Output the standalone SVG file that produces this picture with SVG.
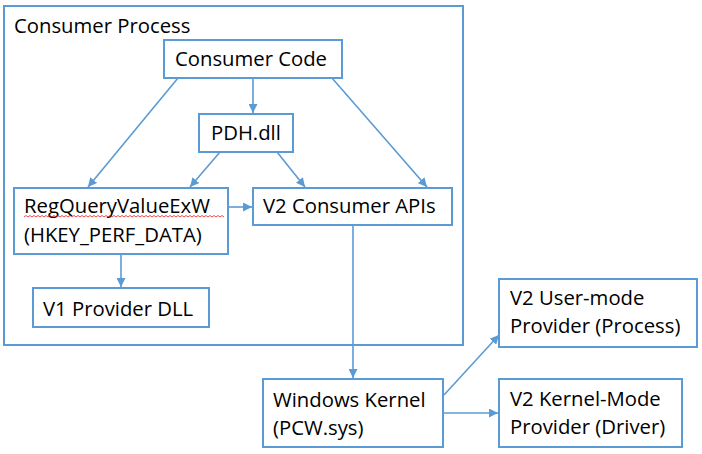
<svg xmlns="http://www.w3.org/2000/svg" width="702" height="454" viewBox="0 0 702 454">
<style>
.box{fill:#fff;stroke:#5B9BD5;stroke-width:2}
.outer{fill:none;stroke:#5B9BD5;stroke-width:2}
.t{font-family:"Open Sans","Noto Sans",sans-serif;font-size:20.3px;fill:#000}
.c{fill:none;stroke:#5B9BD5;stroke-width:1.6}
</style>
<defs>
<marker id="ah" viewBox="0 0 10 10" refX="10" refY="5" markerWidth="9" markerHeight="9" markerUnits="userSpaceOnUse" orient="auto">
<path d="M0,0 L10,5 L0,10 z" fill="#5B9BD5"/>
</marker>
</defs>
<g id="consumer-process">
<rect class="outer" x="4" y="6" width="459" height="339"/>
<text class="t" x="14" y="33">Consumer Process</text>
</g>
<g id="connectors">
<line class="c" x1="253" y1="78" x2="253" y2="113" marker-end="url(#ah)"/>
<line class="c" x1="178" y1="78" x2="88" y2="187" marker-end="url(#ah)"/>
<line class="c" x1="332" y1="78" x2="427" y2="187" marker-end="url(#ah)"/>
<line class="c" x1="220" y1="152" x2="190" y2="187" marker-end="url(#ah)"/>
<line class="c" x1="277" y1="152" x2="305" y2="187" marker-end="url(#ah)"/>
<line class="c" x1="228" y1="207" x2="252" y2="207" marker-end="url(#ah)"/>
<line class="c" x1="121" y1="254" x2="121" y2="287" marker-end="url(#ah)"/>
<line class="c" x1="353" y1="225" x2="353" y2="378" marker-end="url(#ah)"/>
<line class="c" x1="444" y1="395" x2="499" y2="335" marker-end="url(#ah)"/>
<line class="c" x1="444" y1="413" x2="498" y2="413" marker-end="url(#ah)"/>
</g>
<g id="consumer-code">
<rect class="box" x="164" y="40" width="178" height="38"/>
<text class="t" x="175" y="66">Consumer Code</text>
</g>
<g id="pdh-dll">
<rect class="box" x="199" y="114" width="94" height="38"/>
<text class="t" x="211" y="140">PDH.dll</text>
</g>
<g id="regquery">
<rect class="box" x="14" y="188" width="214" height="66"/>
<text class="t" x="24" y="213">RegQueryValueExW</text>
<path d="M24,217 l2,-1.5 l2,1.5 l2,-1.5 l2,1.5 l2,-1.5 l2,1.5 l2,-1.5 l2,1.5 l2,-1.5 l2,1.5 l2,-1.5 l2,1.5 l2,-1.5 l2,1.5 l2,-1.5 l2,1.5 l2,-1.5 l2,1.5 l2,-1.5 l2,1.5 l2,-1.5 l2,1.5 l2,-1.5 l2,1.5 l2,-1.5 l2,1.5 l2,-1.5 l2,1.5 l2,-1.5 l2,1.5 l2,-1.5 l2,1.5 l2,-1.5 l2,1.5 l2,-1.5 l2,1.5 l2,-1.5 l2,1.5 l2,-1.5 l2,1.5 l2,-1.5 l2,1.5 l2,-1.5 l2,1.5 l2,-1.5 l2,1.5 l2,-1.5 l2,1.5 l2,-1.5 l2,1.5 l2,-1.5 l2,1.5 l2,-1.5 l2,1.5 l2,-1.5 l2,1.5 l2,-1.5 l2,1.5 l2,-1.5 l2,1.5 l2,-1.5 l2,1.5 l2,-1.5 l2,1.5 l2,-1.5 l2,1.5 l2,-1.5 l2,1.5 l2,-1.5 l2,1.5 l2,-1.5 l2,1.5 l2,-1.5 l2,1.5 l2,-1.5 l2,1.5 l2,-1.5 l2,1.5 l2,-1.5 l2,1.5 l2,-1.5 l2,1.5 l2,-1.5 l2,1.5 l2,-1.5 l2,1.5 l2,-1.5 l2,1.5 l2,-1.5 l2,1.5 l2,-1.5 l2,1.5 l2,-1.5 l2,1.5 l2,-1.5 l2,1.5 l2,-1.5 l2,1.5 l2,-1.5 l2,1.5" fill="none" stroke="#E02020" stroke-width="0.8"/>
<text class="t" x="24" y="242">(HKEY_PERF_DATA)</text>
</g>
<g id="v2-consumer-apis">
<rect class="box" x="253" y="188" width="199" height="37"/>
<text class="t" x="263" y="213">V2 Consumer APIs</text>
</g>
<g id="v1-provider-dll">
<rect class="box" x="33" y="288" width="176" height="39"/>
<text class="t" x="43" y="316">V1 Provider DLL</text>
</g>
<g id="windows-kernel">
<rect class="box" x="263" y="379" width="180" height="68"/>
<text class="t" x="273" y="407">Windows Kernel</text>
<text class="t" x="273" y="435">(PCW.sys)</text>
</g>
<g id="v2-user-mode">
<rect class="box" x="499" y="279" width="198" height="68"/>
<text class="t" x="510" y="305">V2 User-mode</text>
<text class="t" x="510" y="333">Provider (Process)</text>
</g>
<g id="v2-kernel-mode">
<rect class="box" x="499" y="379" width="183" height="68"/>
<text class="t" x="510" y="406">V2 Kernel-Mode</text>
<text class="t" x="510" y="434">Provider (Driver)</text>
</g>
</svg>
